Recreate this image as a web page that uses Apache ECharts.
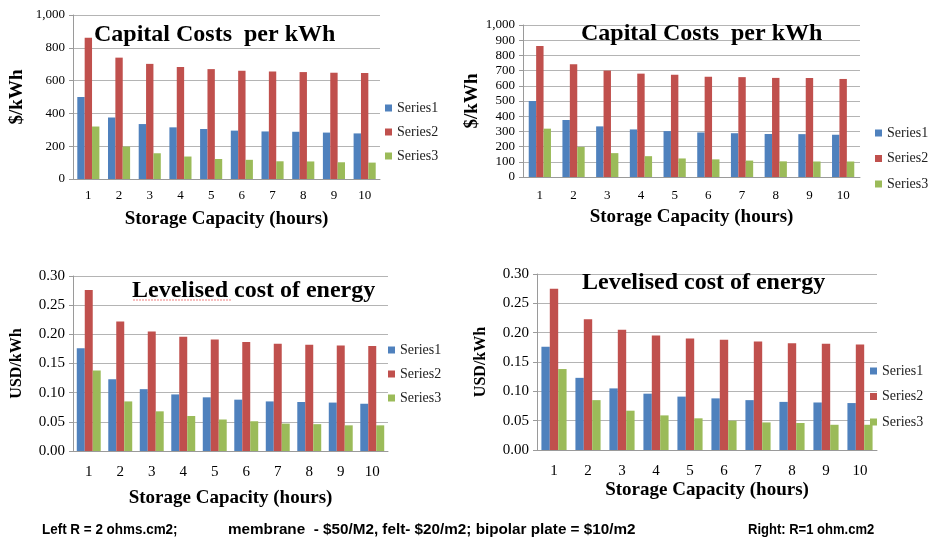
<!DOCTYPE html>
<html>
<head>
<meta charset="utf-8">
<script src="https://cdn.jsdelivr.net/npm/echarts@6/dist/echarts.min.js"></script>
<style>
  html, body { margin: 0; padding: 0; background: #fff; }
  #chart { width: 928px; height: 544px; }
</style>
</head>
<body>
<div id="chart"></div>
<script>
// Storage capacity in hours
const hours = ['1', '2', '3', '4', '5', '6', '7', '8', '9', '10'];
const seriesNames = ['Series1', 'Series2', 'Series3'];

// Capital costs per kWh, R = 2 ohm.cm2
const capLeft1 = [500, 375, 335, 315, 305, 295, 290, 288, 283, 278];
const capLeft2 = [862, 740, 702, 683, 670, 660, 655, 652, 648, 647];
const capLeft3 = [320, 198, 157, 137, 122, 117, 108, 107, 102, 100];

// Capital costs per kWh, R = 1 ohm.cm2
const capRight1 = [500, 375, 333, 313, 302, 293, 288, 283, 282, 278];
const capRight2 = [862, 742, 700, 680, 672, 660, 657, 652, 652, 645];
const capRight3 = [318, 198, 157, 137, 122, 116, 108, 103, 102, 102];

// Levelised cost of energy, R = 2 ohm.cm2
const lcoeLeft1 = [0.176, 0.123, 0.106, 0.097, 0.092, 0.088, 0.085, 0.084, 0.083, 0.081];
const lcoeLeft2 = [0.276, 0.222, 0.205, 0.196, 0.191, 0.187, 0.184, 0.182, 0.181, 0.180];
const lcoeLeft3 = [0.138, 0.085, 0.068, 0.060, 0.054, 0.051, 0.047, 0.046, 0.044, 0.044];

// Levelised cost of energy, R = 1 ohm.cm2
const lcoeRight1 = [0.176, 0.123, 0.105, 0.096, 0.091, 0.088, 0.085, 0.082, 0.081, 0.080];
const lcoeRight2 = [0.275, 0.223, 0.205, 0.195, 0.190, 0.188, 0.185, 0.182, 0.181, 0.180];
const lcoeRight3 = [0.138, 0.085, 0.067, 0.059, 0.054, 0.050, 0.047, 0.046, 0.043, 0.043];

const colors = ['#4F81BD', '#C0504D', '#9BBB59'];
const serif = '"Liberation Serif", "Times New Roman", serif';
const footFont = 'bold 14px "Liberation Sans", Arial, sans-serif';

const panels = [
  { grid: { left: 73, top: 15, width: 307, height: 164 }, max: 1000, interval: 200, fmt: 'int',
    labelSize: 13, labelMargin: 10, yName: '$/kWh', yNameSize: 19, yNameGap: 46, xNameGap: 31, gap: '28%',
    data: [capLeft1, capLeft2, capLeft3],
    title: { text: 'Capital Costs  per kWh', left: 94, top: 23 },
    legend: { left: 385, top: 101, itemGap: 10 } },
  { grid: { left: 523, top: 25, width: 337, height: 152 }, max: 1000, interval: 100, fmt: 'int',
    labelSize: 13, labelMargin: 12, yName: '$/kWh', yNameSize: 19, yNameGap: 39, xNameGap: 31, gap: '34%',
    data: [capRight1, capRight2, capRight3],
    title: { text: 'Capital Costs  per kWh', left: 581, top: 22 },
    legend: { left: 875, top: 126, itemGap: 11.5 } },
  { grid: { left: 73, top: 276, width: 315, height: 175 }, max: 0.30, interval: 0.05, fmt: 'dec',
    labelSize: 15, labelMargin: 14, yName: 'USD/kWh', yNameSize: 16, yNameGap: 48, xNameGap: 38, gap: '24%',
    data: [lcoeLeft1, lcoeLeft2, lcoeLeft3],
    title: { text: 'Levelised cost of energy', left: 132, top: 279 },
    legend: { left: 388, top: 343, itemGap: 10 } },
  { grid: { left: 537, top: 274, width: 340, height: 176 }, max: 0.30, interval: 0.05, fmt: 'dec',
    labelSize: 15, labelMargin: 14, yName: 'USD/kWh', yNameSize: 16, yNameGap: 48, xNameGap: 31, gap: '26%',
    data: [lcoeRight1, lcoeRight2, lcoeRight3],
    title: { text: 'Levelised cost of energy', left: 582, top: 271 },
    legend: { left: 870, top: 364, itemGap: 11.5 } }
];

function formatTick(fmt) {
  return function (v) {
    if (fmt === 'dec') return v.toFixed(2);
    return v >= 1000 ? Math.floor(v / 1000) + ',' + String(v % 1000).padStart(3, '0') : String(v);
  };
}

const option = {
  backgroundColor: '#fff',
  animation: false,
  color: colors,
  title: panels.map(p => ({
    text: p.title.text, left: p.title.left, top: p.title.top, padding: 0,
    textStyle: { fontFamily: serif, fontWeight: 'bold', fontSize: 24, color: '#000' }
  })),
  legend: panels.map(p => ({
    data: seriesNames, orient: 'vertical', left: p.legend.left, top: p.legend.top,
    padding: 0, itemGap: p.legend.itemGap, itemWidth: 7, itemHeight: 7, icon: 'rect',
    textStyle: { fontFamily: serif, fontSize: 14, color: '#222' }
  })),
  grid: panels.map(p => Object.assign({ containLabel: false }, p.grid)),
  xAxis: panels.map((p, i) => ({
    type: 'category', gridIndex: i, data: hours,
    name: 'Storage Capacity (hours)', nameLocation: 'middle', nameGap: p.xNameGap,
    nameTextStyle: { fontFamily: serif, fontWeight: 'bold', fontSize: 19, color: '#000' },
    axisLine: { lineStyle: { color: '#9a9a9a', width: 1 } },
    axisTick: { show: false },
    axisLabel: { fontFamily: serif, fontSize: p.labelSize, color: '#000', margin: p.labelMargin }
  })),
  yAxis: panels.map((p, i) => ({
    type: 'value', gridIndex: i, min: 0, max: p.max, interval: p.interval,
    name: p.yName, nameLocation: 'middle', nameGap: p.yNameGap, nameRotate: 90,
    nameTextStyle: { fontFamily: serif, fontWeight: 'bold', fontSize: p.yNameSize, color: '#000' },
    axisLine: { show: true, lineStyle: { color: '#9a9a9a', width: 1 } },
    axisTick: { show: true, length: 4, lineStyle: { color: '#9a9a9a' } },
    splitLine: { lineStyle: { color: '#b4b4b4', width: 1 } },
    axisLabel: { fontFamily: serif, fontSize: p.labelSize, color: '#000', margin: 8,
      formatter: formatTick(p.fmt) }
  })),
  series: panels.flatMap((p, i) => p.data.map((vals, k) => ({
    type: 'bar', name: seriesNames[k], xAxisIndex: i, yAxisIndex: i,
    data: vals, barGap: '0%', barCategoryGap: p.gap,
    itemStyle: { color: colors[k] }
  }))),
  graphic: [
    // spell-check squiggle under "Levelised"
    { type: 'polyline', silent: true,
      shape: { points: [[133, 300], [231, 300]] },
      style: { stroke: '#f08080', lineWidth: 1, lineDash: [2, 1] } },
    { type: 'text', x: 42, y: 523, scaleX: 0.96,
      style: { text: 'Left R = 2 ohms.cm2;', font: footFont, fill: '#000' } },
    { type: 'text', x: 228, y: 523, scaleX: 1.09,
      style: { text: 'membrane  - $50/M2, felt- $20/m2; bipolar plate = $10/m2', font: footFont, fill: '#000' } },
    { type: 'text', x: 748, y: 523, scaleX: 0.93,
      style: { text: 'Right: R=1 ohm.cm2', font: footFont, fill: '#000' } }
  ]
};

const chart = echarts.init(document.getElementById('chart'), null, { renderer: 'canvas' });
chart.setOption(option);
</script>
</body>
</html>
